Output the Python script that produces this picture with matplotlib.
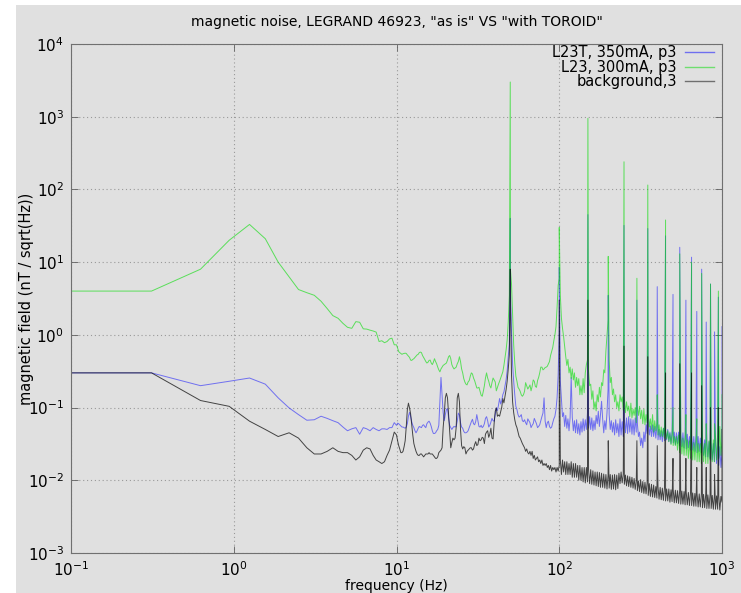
import numpy as np
import matplotlib
matplotlib.use("Agg")
import matplotlib.pyplot as plt
from matplotlib.patches import Rectangle
from matplotlib.ticker import LogLocator, NullLocator

# frequency axes: first point at 0.1 Hz, then FFT bins (0.3125 Hz) up to 9.7 Hz,
# then a log-spaced grid 10 Hz .. 1 kHz, plus the mains harmonics
low_freq = np.concatenate([[0.1], np.arange(1, 32) * 0.3125])
mid_freq = np.geomspace(10, 1000, 301)
harmonics = np.arange(50, 1001, 50)

labels = ["L23T, 350mA, p3", "L23, 300mA, p3", "background,3"]
colors = ["#0000ff", "#00dd00", "#000000"]
alphas = [0.5, 0.6, 0.7]

# L23T with toroid (nT/sqrt(Hz))
blue_low = [0.30, 0.30, 0.20, 0.23, 0.255, 0.21, 0.136, 0.099, 0.080, 0.067, 0.068, 0.076,
            0.071, 0.066, 0.062, 0.054, 0.048, 0.051, 0.053, 0.043, 0.053, 0.051, 0.048, 0.053,
            0.050, 0.048, 0.051, 0.051, 0.050, 0.053, 0.053, 0.062]
blue_mid = [
    0.057, 0.061, 0.060, 0.058, 0.056, 0.054, 0.054, 0.053, 0.052, 0.054,
    0.060, 0.076, 0.086, 0.076, 0.064, 0.057, 0.053, 0.048, 0.045, 0.048,
    0.052, 0.055, 0.054, 0.053, 0.057, 0.058, 0.055, 0.053, 0.060, 0.063,
    0.065, 0.061, 0.055, 0.048, 0.044, 0.044, 0.045, 0.048, 0.050, 0.057,
    0.122, 0.26, 0.151, 0.085, 0.066, 0.080, 0.094, 0.097, 0.072, 0.057,
    0.053, 0.050, 0.053, 0.055, 0.054, 0.055, 0.065, 0.084, 0.079, 0.062,
    0.054, 0.052, 0.047, 0.045, 0.045, 0.046, 0.048, 0.053, 0.058, 0.064,
    0.069, 0.060, 0.058, 0.064, 0.080, 0.066, 0.055, 0.054, 0.057, 0.053,
    0.055, 0.060, 0.071, 0.075, 0.066, 0.054, 0.057, 0.063, 0.071, 0.066,
    0.065, 0.080, 0.099, 0.091, 0.108, 0.133, 0.112, 0.125, 0.151, 0.164,
    0.20, 0.24, 0.32, 0.50, 0.73, 4.0, 1.1, 0.39, 0.23, 0.15,
    0.104, 0.094, 0.080, 0.074, 0.076, 0.080, 0.066, 0.064, 0.068, 0.062,
    0.058, 0.070, 0.066, 0.062, 0.053, 0.057, 0.060, 0.071, 0.065, 0.060,
    0.053, 0.055, 0.058, 0.066, 0.075, 0.084, 0.136, 0.065, 0.053, 0.062,
    0.065, 0.055, 0.052, 0.054, 0.062, 0.070, 0.076, 0.094, 0.136, 0.28,
    1.2, 0.23, 0.13, 0.075, 0.085, 0.055, 0.078, 0.052, 0.070, 0.048,
    0.072, 0.26, 0.074, 0.048, 0.066, 0.045, 0.068, 0.044, 0.060, 0.042,
    0.064, 0.046, 0.070, 0.048, 0.068, 0.050, 0.085, 0.052, 0.075, 0.050,
    0.072, 0.048, 0.066, 0.050, 0.078, 0.060, 0.089, 0.055, 0.080, 0.122,
    0.070, 0.045, 0.066, 0.050, 0.085, 0.18, 0.080, 0.050, 0.066, 0.046,
    0.062, 0.042, 0.068, 0.045, 0.060, 0.040, 0.070, 0.042, 0.064, 0.040,
    0.070, 0.045, 0.072, 0.044, 0.075, 0.046, 0.070, 0.043, 0.068, 0.042,
    0.072, 0.046, 0.060, 0.040, 0.046, 0.030, 0.038, 0.028, 0.046, 0.034,
    0.058, 0.044, 0.062, 0.042, 0.056, 0.040, 0.058, 0.040, 0.055, 0.038,
    0.056, 0.036, 0.050, 0.036, 0.048, 0.034, 0.052, 0.035, 0.048, 0.036,
    0.050, 0.034, 0.046, 0.032, 0.048, 0.033, 0.046, 0.031, 0.045, 0.032,
    0.046, 0.030, 0.044, 0.029, 0.045, 0.028, 0.042, 0.027, 0.043, 0.028,
    0.040, 0.026, 0.042, 0.026, 0.040, 0.025, 0.041, 0.024, 0.040, 0.025,
    0.038, 0.024, 0.037, 0.022, 0.036, 0.021, 0.035, 0.021, 0.034, 0.020,
    0.033, 0.019, 0.032, 0.018, 0.031, 0.017, 0.030, 0.016, 0.029, 0.015,
    0.024]
blue_peaks = [40, 8.5, 45, 3.5, 32, 3.0, 29, 4.6, 23, 3.6,
              16, 3.0, 11.7, 2.1, 8.0, 1.5, 5.0, 1.1, 3.3, 1.3]

# L23 as is
green_low = [4.0, 4.0, 8.0, 20, 33, 21, 10, 6.3, 4.2, 3.8, 3.5, 2.9, 2.3, 1.84, 1.69, 1.44,
             1.27, 1.23, 1.52, 1.49, 1.21, 1.20, 1.16, 1.13, 1.09, 0.81, 0.83, 0.78, 0.81,
             0.88, 0.90, 0.73]
green_mid = [
    0.73, 0.66, 0.59, 0.57, 0.555, 0.54, 0.55, 0.555, 0.56, 0.555,
    0.53, 0.51, 0.49, 0.45, 0.445, 0.46, 0.47, 0.49, 0.51, 0.53,
    0.54, 0.57, 0.58, 0.57, 0.52, 0.49, 0.46, 0.43, 0.41, 0.42,
    0.445, 0.45, 0.41, 0.39, 0.42, 0.47, 0.43, 0.40, 0.36, 0.33,
    0.31, 0.34, 0.36, 0.38, 0.39, 0.40, 0.41, 0.45, 0.50, 0.52,
    0.47, 0.39, 0.36, 0.34, 0.35, 0.36, 0.40, 0.43, 0.50, 0.43,
    0.34, 0.30, 0.25, 0.225, 0.21, 0.205, 0.225, 0.235, 0.27, 0.30,
    0.29, 0.255, 0.235, 0.21, 0.186, 0.186, 0.19, 0.167, 0.148, 0.143,
    0.167, 0.20, 0.255, 0.30, 0.255, 0.23, 0.20, 0.186, 0.22, 0.255,
    0.24, 0.225, 0.17, 0.19, 0.21, 0.23, 0.255, 0.28, 0.31, 0.38,
    0.49, 0.62, 0.85, 1.5, 3.5, 8.0, 5.0, 2.0, 0.73, 0.41,
    0.27, 0.23, 0.19, 0.18, 0.167, 0.15, 0.143, 0.15, 0.167, 0.22,
    0.20, 0.18, 0.19, 0.205, 0.17, 0.195, 0.24, 0.23, 0.195, 0.19,
    0.235, 0.26, 0.30, 0.36, 0.36, 0.33, 0.34, 0.355, 0.36, 0.37,
    0.40, 0.43, 0.52, 0.59, 0.67, 0.83, 1.0, 1.3, 2.4, 4.8,
    6.0, 3.5, 1.7, 1.23, 0.95, 0.69, 0.50, 0.38, 0.46, 0.30,
    0.36, 0.25, 0.34, 0.24, 0.30, 0.19, 0.26, 0.20, 0.25, 0.15,
    0.20, 0.15, 0.25, 0.16, 0.30, 0.39, 0.45, 0.32, 0.20, 0.21,
    0.13, 0.17, 0.095, 0.12, 0.090, 0.15, 0.12, 0.19, 0.14, 0.22,
    0.20, 0.33, 0.30, 0.60, 1.0, 1.6, 0.45, 0.22, 0.26, 0.15,
    0.18, 0.12, 0.15, 0.10, 0.12, 0.090, 0.15, 0.12, 0.14, 0.092,
    0.14, 0.085, 0.12, 0.090, 0.105, 0.075, 0.115, 0.072, 0.095, 0.078,
    0.100, 0.062, 0.100, 0.078, 0.104, 0.070, 0.092, 0.060, 0.095, 0.058,
    0.080, 0.062, 0.082, 0.054, 0.070, 0.050, 0.080, 0.046, 0.066, 0.048,
    0.062, 0.042, 0.058, 0.040, 0.054, 0.040, 0.052, 0.038, 0.048, 0.037,
    0.048, 0.034, 0.044, 0.031, 0.043, 0.030, 0.040, 0.030, 0.040, 0.026,
    0.042, 0.024, 0.041, 0.023, 0.038, 0.022, 0.037, 0.022, 0.036, 0.020,
    0.035, 0.020, 0.034, 0.019, 0.033, 0.019, 0.033, 0.018, 0.032, 0.018,
    0.032, 0.017, 0.033, 0.018, 0.032, 0.017, 0.034, 0.017, 0.035, 0.019,
    0.034, 0.018, 0.036, 0.018, 0.040, 0.019, 0.046, 0.020, 0.055, 0.022,
    0.035]
green_peaks = [3000, 30, 950, 12, 240, 6.0, 115, 0.15, 38, 0.10,
               13, 0.08, 10, 0.07, 7.0, 0.06, 5.0, 0.06, 4.0, 0.15]

# background
black_low = [0.30, 0.30, 0.125, 0.104, 0.065, 0.050, 0.040, 0.045, 0.038, 0.028, 0.023, 0.023,
             0.025, 0.028, 0.025, 0.024, 0.024, 0.022, 0.019, 0.021, 0.026, 0.028, 0.027,
             0.022, 0.019, 0.018, 0.017, 0.018, 0.022, 0.026, 0.035, 0.046]
black_mid = [
    0.042, 0.035, 0.030, 0.027, 0.024, 0.024, 0.025, 0.029, 0.035, 0.055,
    0.094, 0.115, 0.099, 0.082, 0.058, 0.042, 0.032, 0.028, 0.025, 0.023,
    0.022, 0.022, 0.023, 0.023, 0.022, 0.021, 0.022, 0.023, 0.023, 0.023,
    0.024, 0.023, 0.023, 0.023, 0.022, 0.021, 0.020, 0.020, 0.021, 0.024,
    0.025, 0.026, 0.028, 0.053, 0.080, 0.136, 0.157, 0.136, 0.080, 0.046,
    0.028, 0.033, 0.038, 0.036, 0.038, 0.053, 0.136, 0.157, 0.12, 0.050,
    0.030, 0.027, 0.029, 0.028, 0.023, 0.025, 0.026, 0.027, 0.028, 0.028,
    0.026, 0.027, 0.031, 0.034, 0.030, 0.031, 0.038, 0.035, 0.036, 0.039,
    0.038, 0.032, 0.043, 0.046, 0.048, 0.039, 0.043, 0.052, 0.038, 0.037,
    0.061, 0.089, 0.099, 0.076, 0.079, 0.076, 0.087, 0.101, 0.133, 0.116,
    0.143, 0.176, 0.23, 0.34, 0.53, 3.0, 0.28, 0.12, 0.085, 0.068,
    0.058, 0.053, 0.046, 0.040, 0.038, 0.035, 0.032, 0.030, 0.028, 0.025,
    0.027, 0.024, 0.023, 0.025, 0.022, 0.025, 0.020, 0.022, 0.019, 0.020,
    0.021, 0.018, 0.019, 0.017, 0.019, 0.016, 0.017, 0.016, 0.017, 0.015,
    0.016, 0.014, 0.016, 0.0134, 0.015, 0.014, 0.015, 0.013, 0.015, 0.0134,
    0.016, 0.019, 0.012, 0.019, 0.013, 0.018, 0.012, 0.018, 0.012, 0.017,
    0.012, 0.018, 0.011, 0.017, 0.011, 0.017, 0.011, 0.016, 0.010, 0.016,
    0.010, 0.015, 0.0095, 0.015, 0.0092, 0.015, 0.0095, 0.014, 0.0090, 0.014,
    0.0088, 0.0135, 0.0086, 0.013, 0.0084, 0.013, 0.0082, 0.0128, 0.0080, 0.0125,
    0.0080, 0.0122, 0.0078, 0.012, 0.0076, 0.0118, 0.0078, 0.0120, 0.0075, 0.0118,
    0.0076, 0.0120, 0.0074, 0.0118, 0.0077, 0.0125, 0.0090, 0.0130, 0.0092, 0.0122,
    0.0088, 0.0118, 0.0084, 0.0115, 0.0082, 0.0112, 0.0080, 0.0110, 0.0078, 0.0106,
    0.0075, 0.0100, 0.0072, 0.0098, 0.0070, 0.0102, 0.0068, 0.0096, 0.0066, 0.0094,
    0.0065, 0.0092, 0.0062, 0.0090, 0.0060, 0.0088, 0.0059, 0.0086, 0.0058, 0.0082,
    0.0057, 0.0082, 0.0055, 0.0080, 0.0054, 0.0078, 0.0053, 0.0079, 0.0052, 0.0076,
    0.0052, 0.0076, 0.0050, 0.0074, 0.0051, 0.0075, 0.0049, 0.0073, 0.0049, 0.0072,
    0.0048, 0.0072, 0.0047, 0.0071, 0.0047, 0.0070, 0.0046, 0.0069, 0.0046, 0.0068,
    0.0045, 0.0068, 0.0045, 0.0067, 0.0044, 0.0066, 0.0044, 0.0066, 0.0043, 0.0065,
    0.0043, 0.0065, 0.0042, 0.0064, 0.0042, 0.0064, 0.0041, 0.0063, 0.0041, 0.0063,
    0.0041, 0.0062, 0.0040, 0.0062, 0.0040, 0.0061, 0.0040, 0.0061, 0.0039, 0.0060,
    0.0050]
black_peaks = [8.0, 3.0, 3.0, 0.035, 0.7, 0.035, 0.5, 0.03, 0.3, 0.02,
               0.4, 0.02, 0.3, 0.015, 0.2, 0.015, 0.1, 0.012, 0.1, 0.05]


def spectrum(low, mid, peaks):
    f = np.concatenate([low_freq, mid_freq, harmonics])
    v = np.concatenate([low, mid, peaks])
    order = np.argsort(f, kind="stable")
    return f[order], v[order]


series = [(blue_low, blue_mid, blue_peaks),
          (green_low, green_mid, green_peaks),
          (black_low, black_mid, black_peaks)]

bg = "#e0e0e0"
fig = plt.figure(figsize=(7.41, 5.93), dpi=100, facecolor="white")
fig.patches.append(Rectangle((16 / 741, 0), 1, 1 - 5 / 593, transform=fig.transFigure,
                             facecolor=bg, edgecolor="none", zorder=-10))
ax = fig.add_axes([71 / 741, 1 - 553 / 593, 651 / 741, 509 / 593])
ax.set_facecolor(bg)

for (low, mid, peaks), col, a, lab in zip(series, colors, alphas, labels):
    f, v = spectrum(low, mid, peaks)
    ax.plot(f, v, color=col, lw=0.7, alpha=a, label=lab)

ax.set_xscale("log")
ax.set_yscale("log")
ax.set_xlim(0.1, 1000)
ax.set_ylim(1e-3, 1e4)
ax.xaxis.set_major_locator(LogLocator(base=10, numticks=10))
ax.yaxis.set_major_locator(LogLocator(base=10, numticks=10))
ax.xaxis.set_minor_locator(NullLocator())
ax.yaxis.set_minor_locator(NullLocator())
ax.tick_params(which="major", direction="in", length=5, width=0.6, color="#606060",
               top=True, right=True, labelsize=11, pad=5)
ax.grid(True, which="major", linestyle=(0, (1, 2.5)), color="#999999", lw=0.8)
for s in ax.spines.values():
    s.set_color("#707070")
    s.set_linewidth(0.8)

ax.set_title('magnetic noise, LEGRAND 46923, "as is" VS "with TOROID"', fontsize=10, pad=13)
ax.set_xlabel("frequency (Hz)", fontsize=10, labelpad=0)
ax.set_ylabel("magnetic field (nT / sqrt(Hz))", fontsize=10.5)
ax.yaxis.set_label_coords(-0.057, 0.5)

leg = ax.legend(loc="upper right", bbox_to_anchor=(0.99, 1.0), frameon=False,
                markerfirst=False, fontsize=10.5, handlelength=2.0, labelspacing=-0.05,
                borderaxespad=0.0, borderpad=0.1, handletextpad=0.55)
for line in leg.get_lines():
    line.set_linewidth(1.0)
    line.set_alpha(0.5)

fig.savefig("out.png", dpi=100, facecolor=fig.get_facecolor())
